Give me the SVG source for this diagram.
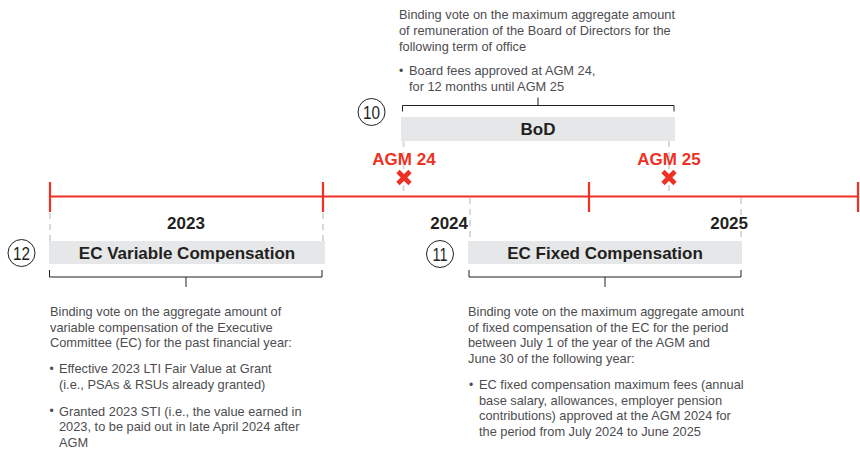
<svg xmlns="http://www.w3.org/2000/svg" width="860" height="451" viewBox="0 0 860 451">
<style>
.p{font-family:"Liberation Sans",Arial,sans-serif;font-size:12.8px;fill:#4d4d4f}
.bu{font-family:"Liberation Sans",Arial,sans-serif;font-size:12px;fill:#4d4d4f}
.b{font-family:"Liberation Sans",Arial,sans-serif;font-size:17px;font-weight:bold;fill:#231f20}
.agm{font-family:"Liberation Sans",Arial,sans-serif;font-size:17px;font-weight:bold;fill:#ee3124;text-anchor:middle}
.box{fill:#e6e7e8}
.dash{stroke:#d9d9d9;stroke-width:2;stroke-dasharray:6 5;fill:none}
.br{stroke:#231f20;stroke-width:1;fill:none}
.red{stroke:#ee3124;stroke-width:2.2;fill:none}
.x{stroke:#ee3124;stroke-width:4.6;fill:none}
.cn{fill:none;stroke:#231f20;stroke-width:1}
.cnt{font-family:"Liberation Sans",Arial,sans-serif;font-size:19px;fill:#231f20;text-anchor:middle}
</style>
<rect width="860" height="451" fill="#ffffff"/>

<g id="connectors">
  <line class="dash" x1="50" y1="213" x2="50" y2="241"/>
  <line class="dash" x1="323" y1="213" x2="323" y2="241"/>
  <line class="dash" x1="470" y1="198" x2="470" y2="241"/>
  <line class="dash" x1="741" y1="198" x2="741" y2="241"/>
  <line class="dash" x1="403.5" y1="141" x2="403.5" y2="196"/>
  <line class="dash" x1="669" y1="141" x2="669" y2="196"/>
  <path class="br" d="M402.5,111.5 V105.5 H674 V111.5 M538,105.5 V97.5"/>
  <path class="br" d="M49.5,270 V277 H322 V270 M186,277 V287"/>
  <path class="br" d="M469,270 V277 H741 V270 M605,277 V287"/>
</g>

<g id="timeline">
  <line class="red" x1="50" y1="196.5" x2="858" y2="196.5"/>
  <line class="red" x1="50" y1="182" x2="50" y2="212"/>
  <line class="red" x1="323" y1="182" x2="323" y2="212"/>
  <line class="red" x1="589" y1="182" x2="589" y2="212"/>
  <line class="red" x1="858" y1="182" x2="858" y2="212"/>
  <text class="b" x="186" y="229" text-anchor="middle">2023</text>
  <text class="b" x="468" y="229" text-anchor="end">2024</text>
  <text class="b" x="748" y="229" text-anchor="end">2025</text>
</g>

<g id="agm24">
  <text class="agm" x="404" y="165">AGM 24</text>
  <path class="x" d="M398,171.5 L410,183.5 M410,171.5 L398,183.5"/>
</g>

<g id="agm25">
  <text class="agm" x="669" y="165">AGM 25</text>
  <path class="x" d="M663,171.5 L675,183.5 M675,171.5 L663,183.5"/>
</g>

<g id="bod">
  <rect class="box" x="401" y="117" width="274" height="24"/>
  <text class="b" x="538" y="135" text-anchor="middle">BoD</text>
  <circle class="cn" cx="371.5" cy="112" r="13.5"/>
  <text class="cnt" x="371.5" y="119" textLength="17" lengthAdjust="spacingAndGlyphs">10</text>
  <text class="p" x="399" y="18.5">Binding vote on the maximum aggregate amount</text>
  <text class="p" x="399" y="34.5">of remuneration of the Board of Directors for the</text>
  <text class="p" x="399" y="50.5">following term of office</text>
  <text class="bu" x="399" y="74.5">•</text>
  <text class="p" x="409" y="75">Board fees approved at AGM 24,</text>
  <text class="p" x="409" y="91">for 12 months until AGM 25</text>
</g>

<g id="ec-variable">
  <rect class="box" x="49" y="241" width="276" height="23"/>
  <text class="b" x="187" y="258.5" text-anchor="middle">EC Variable Compensation</text>
  <circle class="cn" cx="21.5" cy="253" r="13.5"/>
  <text class="cnt" x="21.5" y="260" textLength="17" lengthAdjust="spacingAndGlyphs">12</text>
  <text class="p" x="50" y="316">Binding vote on the aggregate amount of</text>
  <text class="p" x="50" y="331.5">variable compensation of the Executive</text>
  <text class="p" x="50" y="347">Committee (EC) for the past financial year:</text>
  <text class="bu" x="49.5" y="372.5">•</text>
  <text class="p" x="59" y="373">Effective 2023 LTI Fair Value at Grant</text>
  <text class="p" x="59" y="389">(i.e., PSAs &amp; RSUs already granted)</text>
  <text class="bu" x="49.5" y="415">•</text>
  <text class="p" x="59" y="415.5">Granted 2023 STI (i.e., the value earned in</text>
  <text class="p" x="59" y="431">2023, to be paid out in late April 2024 after</text>
  <text class="p" x="59" y="446.5">AGM</text>
</g>

<g id="ec-fixed">
  <rect class="box" x="468" y="241" width="274" height="23"/>
  <text class="b" x="605" y="258.5" text-anchor="middle">EC Fixed Compensation</text>
  <circle class="cn" cx="440" cy="254" r="13.5"/>
  <text class="cnt" x="440" y="261" textLength="15" lengthAdjust="spacingAndGlyphs">11</text>
  <text class="p" x="468" y="316">Binding vote on the maximum aggregate amount</text>
  <text class="p" x="468" y="331.5">of fixed compensation of the EC for the period</text>
  <text class="p" x="468" y="347">between July 1 of the year of the AGM and</text>
  <text class="p" x="468" y="362.5">June 30 of the following year:</text>
  <text class="bu" x="469" y="388.5">•</text>
  <text class="p" x="479" y="389">EC fixed compensation maximum fees (annual</text>
  <text class="p" x="479" y="404.5">base salary, allowances, employer pension</text>
  <text class="p" x="479" y="420">contributions) approved at the AGM 2024 for</text>
  <text class="p" x="479" y="435.5">the period from July 2024 to June 2025</text>
</g>
</svg>
